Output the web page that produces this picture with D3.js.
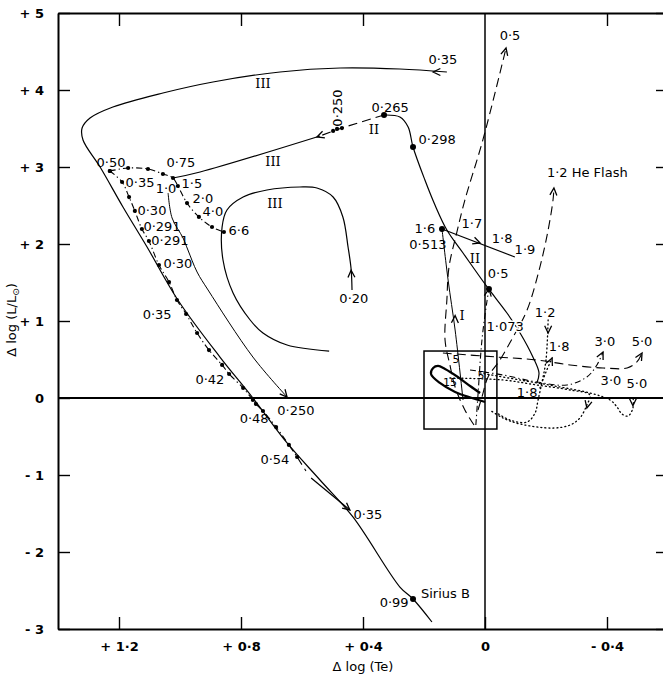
<!DOCTYPE html>
<html>
<head>
<meta charset="utf-8">
<script src="https://cdn.jsdelivr.net/npm/d3@7"></script>
<style>
  body { margin: 0; background: #fff; }
  svg { display: block; font-family: "DejaVu Sans", sans-serif; }
</style>
</head>
<body>
<svg id="chart" width="663" height="682"></svg>
<script>
// ── axis ticks ───────────────────────────────────────────────
const xTickValues = [1.2, 0.8, 0.4, 0, -0.4];
const xTickLabels = ["+ 1·2", "+ 0·8", "+ 0·4", "0", "- 0·4"];
const yTickValues = [5, 4, 3, 2, 1, 0, -1, -2, -3];
const yTickLabels = ["+ 5", "+ 4", "+ 3", "+ 2", "+ 1", "0", "- 1", "- 2", "- 3"];

// ── tracks, points are [Δlog Te, Δlog L] ─────────────────────
const track035 = [[0.125, 4.234], [0.279, 4.273], [0.475, 4.286], [0.672, 4.234], [0.892, 4.104],
  [1.056, 3.961], [1.220, 3.779], [1.295, 3.636], [1.321, 3.506], [1.318, 3.351], [1.262, 3.000],
  [1.187, 2.481], [1.108, 1.961], [1.007, 1.273], [0.869, 0.532], [0.761, 0.000], [0.649, -0.584],
  [0.541, -1.065], [0.433, -1.545], [0.279, -2.455], [0.236, -2.610], [0.174, -2.909]];
const track035end = [[0.570, -1.039], [0.443, -1.455]];
const track020 = [[0.436, 1.403], [0.439, 1.675], [0.449, 1.961], [0.466, 2.351], [0.498, 2.610],
  [0.551, 2.727], [0.607, 2.740], [0.715, 2.701], [0.793, 2.610], [0.846, 2.442], [0.862, 2.221],
  [0.859, 1.792], [0.826, 1.364], [0.770, 1.013], [0.728, 0.844], [0.649, 0.688], [0.511, 0.610]];
const track250dash = [[0.331, 3.675], [0.469, 3.506], [0.541, 3.403]];
const track250 = [[0.541, 3.403], [0.934, 2.935], [1.023, 2.857]];
const trackII = [[0.331, 3.675], [0.279, 3.649], [0.252, 3.519], [0.236, 3.260], [0.197, 2.831],
  [0.164, 2.506], [0.125, 2.182], [0.072, 1.883], [-0.007, 1.442], [-0.072, 1.104], [-0.115, 0.844],
  [-0.157, 0.532], [-0.177, 0.325], [-0.170, 0.195]];
const track10 = [[1.039, 2.662], [1.026, 2.338], [0.990, 2.078], [0.974, 1.922], [0.944, 1.636],
  [0.908, 1.403], [0.761, 0.532], [0.649, 0.013]];
const massLossUpper = [[1.230, 2.948], [1.170, 2.987], [1.105, 2.974], [1.056, 2.909], [1.023, 2.857],
  [1.007, 2.753], [0.977, 2.532], [0.938, 2.351], [0.895, 2.221], [0.856, 2.156]];
const massLossLower = [[1.230, 2.948], [1.190, 2.805], [1.167, 2.610], [1.148, 2.429], [1.125, 2.195],
  [1.102, 2.039], [1.069, 1.727], [1.036, 1.506], [1.010, 1.273], [0.980, 1.091], [0.944, 0.844],
  [0.905, 0.623], [0.862, 0.429], [0.839, 0.312], [0.793, 0.130], [0.761, -0.026], [0.751, -0.078],
  [0.728, -0.169], [0.685, -0.377], [0.643, -0.610], [0.616, -0.766]];
const massLossTail = [[0.616, -0.766], [0.587, -0.948]];
const track16 = [[0.141, 2.195], [-0.098, 1.831]];
const trackI = [[0.072, -0.026], [0.098, 0.883], [0.121, 1.532], [0.141, 2.195]];
const track05 = [[0.036, -0.351], [0.066, -0.156], [0.098, 0.143], [0.115, 0.429], [0.131, 0.753],
  [0.125, 1.273], [0.118, 1.701], [0.092, 2.156], [0.066, 2.571], [0.007, 3.351], [-0.069, 4.545]];
const track05b = [[0.030, -0.351], [0.023, 0.039], [0.010, 0.753], [-0.007, 1.273], [-0.013, 1.416]];
const trackHeFlash = [[0.023, -0.156], [0.010, 0.013], [-0.010, 0.273], [-0.049, 0.494],
  [-0.092, 0.792], [-0.138, 1.143], [-0.180, 1.701], [-0.207, 2.182], [-0.223, 2.571], [-0.226, 2.727]];
const track12 = [[-0.207, 1.013], [-0.200, 0.494], [-0.187, 0.208], [-0.174, -0.026], [-0.164, -0.195],
  [-0.138, -0.312], [-0.082, -0.286], [-0.039, -0.195]];
const track18 = [[-0.180, 0.130], [-0.200, 0.338], [-0.220, 0.519]];
const track30up = [[0.049, 0.364], [-0.059, 0.299], [-0.170, 0.208], [-0.269, 0.169], [-0.334, 0.273],
  [-0.367, 0.429], [-0.387, 0.597]];
const track50up = [[0.138, 0.584], [-0.039, 0.532], [-0.170, 0.494], [-0.279, 0.429], [-0.387, 0.390],
  [-0.466, 0.390], [-0.498, 0.468], [-0.515, 0.584]];
const track30down = [[0.115, 0.260], [-0.059, 0.234], [-0.170, 0.169], [-0.279, 0.104], [-0.344, 0.039],
  [-0.334, -0.091], [-0.311, -0.260], [-0.279, -0.351], [-0.223, -0.390], [-0.115, -0.338],
  [-0.059, -0.260], [-0.016, -0.156]];
const track50down = [[0.016, 0.325], [-0.115, 0.234], [-0.246, 0.143], [-0.344, 0.065], [-0.410, -0.026],
  [-0.433, -0.117], [-0.449, -0.208], [-0.469, -0.234], [-0.485, -0.130], [-0.485, 0.026]];
const loop15 = [[0.000, -0.052], [0.043, 0.000], [0.098, 0.078], [0.148, 0.195], [0.177, 0.312],
  [0.170, 0.390], [0.154, 0.416], [0.131, 0.377], [0.089, 0.273], [0.049, 0.156], [0.016, 0.065]];
const boxCorners = [[0.200, 0.610], [-0.039, -0.403]];

// marked models (dots)
const bigDots = [[0.331, 3.675], [0.236, 3.260], [-0.013, 1.416], [0.141, 2.195], [0.236, -2.610]];
const smallDots = [[0.498, 3.468], [0.485, 3.494], [0.469, 3.506]];

// arrowheads: tip and the point the track comes from
const arrowTips = [[0.170, 4.234], [0.439, 1.660], [0.551, 3.390], [0.649, 0.013], [0.443, -1.455],
  [0.016, 2.013], [0.098, 1.070], [-0.069, 4.545], [-0.226, 2.727], [-0.013, 1.416], [-0.207, 0.844],
  [-0.220, 0.519], [-0.387, 0.597], [-0.515, 0.584], [-0.334, -0.130], [-0.485, -0.100]];
const arrowFrom = [[0.125, 4.234], [0.436, 1.403], [0.469, 3.506], [0.761, 0.532], [0.570, -1.039],
  [0.141, 2.195], [0.100, 0.800], [0.007, 3.351], [-0.223, 2.571], [-0.007, 1.273], [-0.207, 1.013],
  [-0.200, 0.338], [-0.367, 0.429], [-0.498, 0.468], [-0.344, 0.039], [-0.485, 0.030]];

// annotations
const labelTexts = ["0·35", "III", "0·250", "0·265", "II", "0·298", "III", "III", "0·20",
  "0·50", "0·75", "0·35", "1·0", "1·5", "2·0", "4·0", "6·6", "0·30", "0·291", "0·291", "0·30",
  "0·35", "0·42", "0·48", "0·250", "0·54", "0·35", "0·99", "1·6", "0·513", "1·7", "1·8", "1·9",
  "II", "0·5", "I", "1·073", "0·5", "1·2", "1·8", "3·0", "5·0", "3·0", "5·0", "1·8", "15", "5", "5"];
const labelPos = [[0.138, 4.390], [0.728, 4.078], [0.482, 3.766], [0.311, 3.779], [0.364, 3.481],
  [0.157, 3.352], [0.695, 3.065], [0.689, 2.532], [0.430, 1.286],
  [1.226, 3.052], [0.997, 3.052], [1.131, 2.805], [1.046, 2.727], [0.961, 2.792], [0.925, 2.597],
  [0.892, 2.416], [0.807, 2.169], [1.092, 2.429], [1.059, 2.221], [1.033, 2.039], [1.007, 1.753],
  [1.075, 1.078], [0.902, 0.234], [0.757, -0.260], [0.620, -0.156], [0.689, -0.805], [0.384, -1.519],
  [0.298, -2.662], [0.197, 2.195], [0.187, 2.000], [0.043, 2.260], [-0.056, 2.065], [-0.131, 1.935],
  [0.033, 1.818], [-0.043, 1.623], [0.075, 1.065], [-0.066, 0.935], [-0.082, 4.714], [-0.197, 1.104],
  [-0.243, 0.675], [-0.393, 0.740], [-0.515, 0.740], [-0.413, 0.221], [-0.498, 0.182], [-0.138, 0.065],
  [0.115, 0.195], [0.095, 0.494], [0.013, 0.286]];
const siriusLabel = ["Sirius B", 0.210, -2.545];
const heFlashLabel = ["1·2 He Flash", -0.203, 2.935];

// ── setup ────────────────────────────────────────────────────
const svg = d3.select('#chart');
const x = d3.scaleLinear().domain([1.4, -0.6]).range([58, 668]);
const y = d3.scaleLinear().domain([5, -3]).range([13, 629]);

const line = d3.line()
  .x(d => x(d[0]))
  .y(d => y(d[1]))
  .curve(d3.curveCatmullRom.alpha(0.5));

const styles = {
  solid:   { w: 1.2, dash: null },
  thin:    { w: 1.0, dash: null },
  thick:   { w: 2.2, dash: null },
  dashed:  { w: 1.1, dash: '9,5' },
  dotted:  { w: 1.3, dash: '1,3' },
  dashdot: { w: 1.1, dash: '6,3,1.3,3' }
};

// frame + ticks via axes
const axisG = svg.append('g').attr('class', 'axes');

axisG.append('g')
  .attr('transform', `translate(${x(1.4)},0)`)
  .call(d3.axisLeft(y).tickValues(yTickValues).tickSize(-12).tickSizeOuter(0)
    .tickPadding(14).tickFormat((d, i) => yTickLabels[i]));

axisG.append('g')
  .attr('transform', `translate(0,${y(-3)})`)
  .call(d3.axisBottom(x).tickValues(xTickValues).tickSize(-12).tickSizeOuter(0)
    .tickPadding(13).tickFormat((d, i) => xTickLabels[i]));

axisG.append('g')
  .attr('transform', `translate(0,${y(5)})`)
  .call(d3.axisTop(x).tickValues(xTickValues.filter(v => v !== 0)).tickSize(-13)
    .tickSizeOuter(0).tickFormat(''));

axisG.append('g')
  .attr('transform', `translate(${x(-0.6)},0)`)
  .call(d3.axisRight(y).tickValues(yTickValues.filter(v => v !== 0)).tickSize(-12)
    .tickSizeOuter(0).tickFormat(''));

axisG.selectAll('.domain').attr('stroke', '#000').attr('stroke-width', 2);
axisG.selectAll('.tick line').attr('stroke', '#000').attr('stroke-width', 1.4);
axisG.selectAll('.tick text')
  .attr('font-family', '"DejaVu Sans", sans-serif')
  .attr('font-size', 13)
  .attr('font-weight', 'bold')
  .attr('fill', '#000');

// zero lines
svg.append('line')
  .attr('x1', x(1.4)).attr('x2', x(-0.6))
  .attr('y1', y(0)).attr('y2', y(0))
  .attr('stroke', '#000').attr('stroke-width', 1.8);
svg.append('line')
  .attr('x1', x(0)).attr('x2', x(0))
  .attr('y1', y(5)).attr('y2', y(-3))
  .attr('stroke', '#000').attr('stroke-width', 1.5);

// box round the main-sequence region
svg.append('rect')
  .attr('x', x(boxCorners[0][0]))
  .attr('y', y(boxCorners[0][1]))
  .attr('width', x(boxCorners[1][0]) - x(boxCorners[0][0]))
  .attr('height', y(boxCorners[1][1]) - y(boxCorners[0][1]))
  .attr('fill', 'none').attr('stroke', '#000').attr('stroke-width', 1.5);

// tracks
const tracks = [
  [track035, 'solid'], [track035end, 'solid'], [track020, 'solid'],
  [track250dash, 'dashed'], [track250, 'solid'], [trackII, 'solid'], [track10, 'thin'],
  [massLossUpper, 'dashdot'], [massLossLower, 'dashdot'], [massLossTail, 'dashed'],
  [track16, 'solid'], [trackI, 'thin'], [track05, 'dashed'], [track05b, 'dashdot'],
  [trackHeFlash, 'dashed'], [track12, 'dotted'], [track18, 'dotted'], [track30up, 'dashdot'],
  [track50up, 'dashed'], [track30down, 'dotted'], [track50down, 'dotted'], [loop15, 'thick']
];

svg.append('g').selectAll('path')
  .data(tracks)
  .enter()
  .append('path')
  .attr('d', d => line(d[0]))
  .attr('fill', 'none')
  .attr('stroke', '#000')
  .attr('stroke-width', d => styles[d[1]].w)
  .attr('stroke-dasharray', d => styles[d[1]].dash)
  .attr('stroke-linecap', d => d[1] === 'dotted' ? 'round' : 'butt');

// dots on the tracks
const dotData = massLossUpper.concat(massLossLower);
svg.append('g').selectAll('circle.small')
  .data(dotData.concat(smallDots))
  .enter()
  .append('circle')
  .attr('cx', d => x(d[0]))
  .attr('cy', d => y(d[1]))
  .attr('r', 2.1)
  .attr('fill', '#000');

svg.append('g').selectAll('circle.big')
  .data(bigDots)
  .enter()
  .append('circle')
  .attr('cx', d => x(d[0]))
  .attr('cy', d => y(d[1]))
  .attr('r', 3)
  .attr('fill', '#000');

// open arrowheads
svg.append('g').selectAll('path')
  .data(arrowTips.map((t, i) => [t, arrowFrom[i]]))
  .enter()
  .append('path')
  .attr('d', d => {
    const tx = x(d[0][0]), ty = y(d[0][1]);
    const a = Math.atan2(ty - y(d[1][1]), tx - x(d[1][0]));
    const len = 8, spread = 0.45;
    const p1 = [tx - len * Math.cos(a - spread), ty - len * Math.sin(a - spread)];
    const p2 = [tx - len * Math.cos(a + spread), ty - len * Math.sin(a + spread)];
    return `M${p1[0]},${p1[1]}L${tx},${ty}L${p2[0]},${p2[1]}`;
  })
  .attr('fill', 'none')
  .attr('stroke', '#000')
  .attr('stroke-width', 1.3);

// annotations
const labelG = svg.append('g')
  .attr('font-size', 13)
  .attr('fill', '#000');

labelG.selectAll('text.lab')
  .data(labelTexts.map((t, i) => [t, labelPos[i]]))
  .enter()
  .append('text')
  .attr('class', 'lab')
  .attr('x', d => x(d[1][0]))
  .attr('y', d => y(d[1][1]))
  .attr('text-anchor', 'middle')
  .attr('dominant-baseline', 'central')
  .attr('font-family', d => (d[0] === 'I' || d[0] === 'II' || d[0] === 'III') ? '"DejaVu Serif", serif' : null)
  .attr('font-size', d => d[0] === '15' || d[0] === '5' ? 11 : 13)
  .attr('transform', (d, i) => d[0] === '0·250' && i === 2
    ? `rotate(-90,${x(d[1][0])},${y(d[1][1])})` : null)
  .attr('stroke', d => d[0] === '1·073' ? '#fff' : null)
  .attr('stroke-width', d => d[0] === '1·073' ? 3 : null)
  .attr('paint-order', 'stroke')
  .text(d => d[0]);

labelG.selectAll('text.start')
  .data([siriusLabel, heFlashLabel])
  .enter()
  .append('text')
  .attr('class', 'start')
  .attr('x', d => x(d[1]))
  .attr('y', d => y(d[2]))
  .attr('dominant-baseline', 'central')
  .text(d => d[0]);

// axis titles
svg.append('text')
  .attr('x', x(0.4))
  .attr('y', 671)
  .attr('text-anchor', 'middle')
  .attr('font-size', 13)
  .text('Δ log (Te)');

const yTitle = svg.append('text')
  .attr('transform', 'translate(16,320) rotate(-90)')
  .attr('text-anchor', 'middle')
  .attr('font-size', 13);
yTitle.append('tspan').text('Δ log (L/L');
yTitle.append('tspan').attr('font-size', 9).attr('dy', 3).text('⊙');
yTitle.append('tspan').attr('dy', -3).text(')');
</script>
</body>
</html>
